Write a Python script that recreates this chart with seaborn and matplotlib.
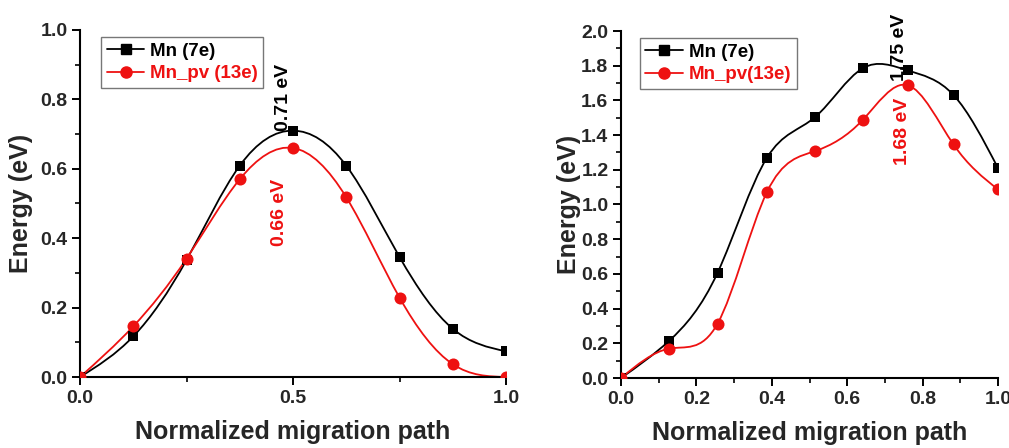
import numpy as np
import matplotlib
matplotlib.use("Agg")
import matplotlib.pyplot as plt
from matplotlib.path import Path
from matplotlib.patches import PathPatch
from matplotlib.lines import Line2D
from matplotlib.ticker import MultipleLocator, FormatStrFormatter
import seaborn as sns

# ---- data ----
left_x = [0.0, 0.125, 0.25, 0.375, 0.5, 0.625, 0.75, 0.875, 1.0]
left_mn = [0.0, 0.117, 0.337, 0.609, 0.71, 0.609, 0.346, 0.139, 0.074]
left_pv = [0.0, 0.146, 0.341, 0.570, 0.66, 0.518, 0.229, 0.037, 0.0]

right_x = [0.0, 0.127, 0.256, 0.387, 0.515, 0.641, 0.760, 0.882, 1.0]
right_mn = [0.0, 0.213, 0.606, 1.269, 1.504, 1.785, 1.773, 1.631, 1.21]
right_pv = [0.0, 0.169, 0.313, 1.071, 1.308, 1.487, 1.688, 1.346, 1.087]

left_labels = ["Mn (7e)", "Mn_pv (13e)"]
right_labels = ["Mn (7e)", "Mn_pv(13e)"]

sns.set_theme(style="ticks")
plt.rcParams['font.family'] = ['Liberation Sans', 'DejaVu Sans']
plt.rcParams['font.weight'] = 'bold'


def spline_path(x, y):
    x = np.asarray(x, float); y = np.asarray(y, float)
    n = len(x)
    h = np.diff(x)
    A = np.zeros((n, n)); b = np.zeros(n)
    A[0, 0] = 1; A[-1, -1] = 1
    for i in range(1, n - 1):
        A[i, i - 1] = h[i - 1]
        A[i, i] = 2 * (h[i - 1] + h[i])
        A[i, i + 1] = h[i]
        b[i] = 6 * ((y[i + 1] - y[i]) / h[i] - (y[i] - y[i - 1]) / h[i - 1])
    M = np.linalg.solve(A, b)
    verts = [(x[0], y[0])]
    codes = [Path.MOVETO]
    for i in range(n - 1):
        s = (y[i + 1] - y[i]) / h[i]
        d0 = s - h[i] * (2 * M[i] + M[i + 1]) / 6
        d1 = s + h[i] * (M[i] + 2 * M[i + 1]) / 6
        verts += [(x[i] + h[i] / 3, y[i] + h[i] * d0 / 3),
                  (x[i + 1] - h[i] / 3, y[i + 1] - h[i] * d1 / 3),
                  (x[i + 1], y[i + 1])]
        codes += [Path.CURVE4] * 3
    return Path(verts, codes)


fig = plt.figure(figsize=(10.09, 4.48), dpi=100)
W, H = 1009, 448
axL = fig.add_axes([80 / W, (H - 377) / H, 426 / W, 347 / H])
axR = fig.add_axes([621 / W, (H - 378) / H, 377 / W, 347 / H])

RED = '#ee1111'


def draw(ax, x, s1, s2, labels, ylabelpad):
    for ys, col, mk, ms in [(s1, 'black', 's', 60), (s2, RED, 'o', 75)]:
        ax.add_patch(PathPatch(spline_path(x, ys), facecolor='none',
                               edgecolor=col, lw=1.3, zorder=2))
        sns.scatterplot(x=x, y=ys, ax=ax, color=col, marker=mk, s=ms,
                        edgecolor=col, linewidth=0, zorder=3, legend=False)
    ax.set_xlim(0, 1)
    sns.despine(ax=ax)
    for sp in ['left', 'bottom']:
        ax.spines[sp].set_linewidth(1.5)
        ax.spines[sp].set_color('black')
    ax.tick_params(which='major', direction='out', length=6, width=1.4,
                   labelsize=14, color='black', pad=3)
    ax.tick_params(which='minor', direction='out', length=3.5, width=1.2,
                   color='black')
    ax.set_xlabel('Normalized migration path', fontsize=18, fontweight='bold',
                  labelpad=10)
    ax.set_ylabel('Energy (eV)', fontsize=18, fontweight='bold',
                  labelpad=ylabelpad)
    handles = [Line2D([], [], color='black', marker='s', ms=7, lw=1.3),
               Line2D([], [], color=RED, marker='o', ms=8, lw=1.3)]
    leg = ax.legend(handles, labels, loc='upper left',
                    bbox_to_anchor=(0.05, 0.98), fancybox=False,
                    framealpha=1, edgecolor='#777777', fontsize=13.5,
                    handlelength=2.0, handletextpad=0.3, borderpad=0.3,
                    labelspacing=0.3, borderaxespad=0)
    leg.get_frame().set_linewidth(1.0)
    for t, c in zip(leg.get_texts(), ['black', RED]):
        t.set_color(c)
        t.set_fontweight('bold')


draw(axL, left_x, left_mn, left_pv, left_labels, 5)
axL.set_ylim(0, 1.0)
axL.xaxis.set_major_locator(MultipleLocator(0.5))
axL.xaxis.set_minor_locator(MultipleLocator(0.25))
axL.yaxis.set_major_locator(MultipleLocator(0.2))
axL.yaxis.set_minor_locator(MultipleLocator(0.1))
axL.xaxis.set_major_formatter(FormatStrFormatter('%.1f'))
axL.yaxis.set_major_formatter(FormatStrFormatter('%.1f'))
axL.text(0.477, 0.807, '0.71 eV', rotation=90, ha='center', va='center',
         fontsize=14, fontweight='bold', color='black')
axL.text(0.469, 0.473, '0.66 eV', rotation=90, ha='center', va='center',
         fontsize=14, fontweight='bold', color=RED)

draw(axR, right_x, right_mn, right_pv, right_labels, 0)
axR.set_ylim(0, 2.0)
axR.xaxis.set_major_locator(MultipleLocator(0.2))
axR.xaxis.set_minor_locator(MultipleLocator(0.1))
axR.yaxis.set_major_locator(MultipleLocator(0.2))
axR.yaxis.set_minor_locator(MultipleLocator(0.1))
axR.xaxis.set_major_formatter(FormatStrFormatter('%.1f'))
axR.yaxis.set_major_formatter(FormatStrFormatter('%.1f'))
axR.text(0.74, 1.908, '1.75 eV', rotation=90, ha='center', va='center',
         fontsize=14, fontweight='bold', color='black', clip_on=False)
axR.text(0.748, 1.424, '1.68 eV', rotation=90, ha='center', va='center',
         fontsize=14, fontweight='bold', color=RED)

for ax in (axL, axR):
    for t in ax.get_xticklabels() + ax.get_yticklabels():
        t.set_fontweight('bold')

fig.savefig('out.png', dpi=100)
